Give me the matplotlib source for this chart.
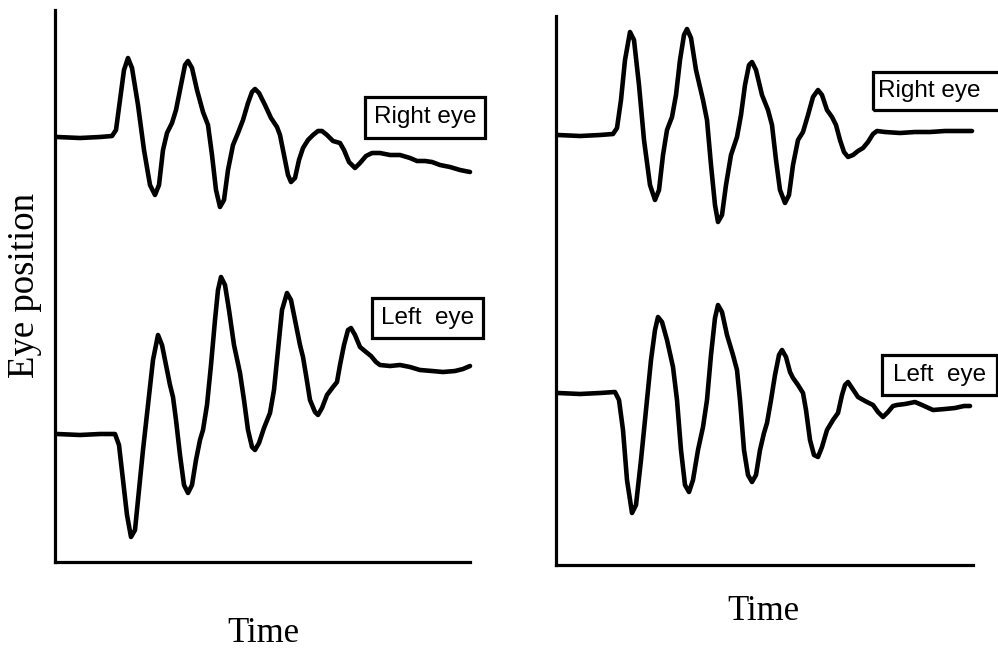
import matplotlib
matplotlib.use("Agg")
import matplotlib.pyplot as plt
from matplotlib.patches import Rectangle

# left panel, right eye
t_lr = [2, 25, 45, 57, 61, 65, 69, 73, 77, 83, 89, 95, 100, 104, 108, 112, 117, 121, 126, 130,
        133, 137, 142, 148, 153, 157, 161, 165, 169, 173, 178, 183, 188, 193, 197, 200, 204, 210, 216, 222,
        225, 229, 233, 236, 240, 244, 248, 253, 258, 263, 267, 272, 278, 285, 289, 294, 300, 305, 311, 317,
        325, 335, 345, 355, 362, 370, 377, 385, 395, 405, 415]
v_lr = [425, 424, 425, 426, 432, 462, 492, 504, 494, 457, 412, 377, 367, 377, 412, 429, 439, 452, 477, 497,
        501, 494, 472, 450, 437, 407, 372, 355, 362, 392, 417, 429, 442, 459, 470, 473, 469, 457, 444, 435,
        427, 407, 387, 380, 384, 402, 414, 422, 427, 431, 431, 427, 421, 419, 412, 400, 394, 399, 406, 409,
        409, 407, 407, 404, 401, 401, 400, 397, 395, 392, 390]

# left panel, left eye
t_ll = [2, 25, 45, 60, 64, 68, 72, 76, 80, 84, 88, 93, 98, 103, 107, 111, 115, 118, 121, 125,
        129, 133, 137, 141, 145, 148, 152, 156, 160, 163, 166, 170, 174, 179, 185, 189, 193, 197, 200, 204,
        209, 215, 219, 223, 227, 232, 236, 240, 245, 248, 251, 255, 260, 263, 267, 272, 278, 282, 285, 289,
        293, 296, 300, 305, 311, 316, 321, 325, 335, 345, 355, 365, 377, 388, 400, 408, 415]
v_ll = [128, 127, 128, 128, 117, 82, 47, 25, 32, 72, 112, 157, 202, 227, 217, 197, 177, 165, 142, 107,
        77, 69, 77, 102, 122, 132, 157, 197, 242, 272, 285, 277, 252, 217, 189, 162, 132, 115, 112, 119,
        134, 149, 172, 212, 252, 269, 262, 242, 217, 205, 187, 162, 150, 147, 154, 167, 175, 180, 197, 217,
        232, 234, 227, 215, 210, 206, 200, 197, 196, 197, 195, 192, 191, 190, 191, 193, 196]

# right panel, right eye
t_rr = [2, 24, 44, 57, 61, 65, 69, 74, 78, 83, 88, 94, 99, 103, 107, 111, 116, 120, 124, 128,
        131, 135, 140, 147, 151, 155, 159, 162, 166, 170, 175, 181, 185, 189, 193, 196, 200, 206, 212, 216,
        220, 224, 229, 233, 237, 242, 247, 252, 257, 262, 266, 271, 276, 280, 284, 288, 292, 297, 302, 307,
        312, 317, 321, 329, 344, 359, 374, 389, 404, 416]
v_rr = [430, 429, 430, 431, 437, 465, 505, 533, 525, 480, 425, 380, 365, 375, 410, 435, 448, 470, 505, 530,
        536, 527, 495, 465, 445, 400, 360, 343, 350, 380, 410, 428, 450, 480, 500, 503, 495, 470, 455, 440,
        405, 375, 362, 370, 400, 425, 433, 450, 468, 475, 470, 455, 448, 440, 425, 413, 408, 410, 414, 417,
        423, 431, 434, 433, 432, 433, 433, 434, 434, 434]

# right panel, left eye
t_rl = [2, 24, 44, 59, 63, 67, 71, 76, 80, 85, 90, 95, 99, 102, 106, 111, 117, 121, 125, 129,
        133, 137, 142, 147, 151, 155, 159, 162, 166, 171, 177, 181, 184, 188, 192, 196, 200, 204, 208, 211,
        215, 219, 223, 226, 230, 234, 237, 242, 247, 250, 254, 258, 262, 266, 271, 277, 282, 286, 289, 292,
        296, 302, 309, 317, 322, 327, 332, 337, 341, 349, 359, 366, 377, 389, 399, 408, 414]
v_rl = [172, 171, 172, 173, 165, 135, 85, 52, 60, 105, 155, 205, 235, 248, 243, 225, 198, 165, 115, 80,
        73, 85, 115, 138, 165, 210, 247, 260, 253, 230, 210, 195, 165, 115, 90, 83, 90, 115, 132, 142,
        165, 190, 210, 215, 208, 193, 187, 180, 172, 155, 125, 110, 108, 118, 135, 145, 152, 170, 180, 183,
        177, 168, 164, 160, 153, 148, 153, 159, 160, 161, 163, 160, 155, 156, 157, 159, 159]

W, H = 998, 652
fig = plt.figure(figsize=(W / 100, H / 100), dpi=100)

serif = "Liberation Serif"
sans = "Liberation Sans"


def make_axes(x0, y_bottom, width, height):
    ax = fig.add_axes([x0 / W, (H - y_bottom) / H, width / W, height / H])
    ax.set_xlim(0, width)
    ax.set_ylim(0, height)
    for side in ("top", "right"):
        ax.spines[side].set_visible(False)
    for side in ("left", "bottom"):
        ax.spines[side].set_linewidth(2.3)
        ax.spines[side].set_capstyle("projecting")
    ax.set_xticks([])
    ax.set_yticks([])
    ax.patch.set_visible(False)
    return ax


def label_box(ax, x, y, w, h, text, text_left=None):
    ax.add_patch(Rectangle((x, y), w, h, fill=False, lw=2.3, ec="black",
                           clip_on=False, joinstyle="miter"))
    if text_left is None:
        ax.text(x + w / 2, y + h / 2, text, ha="center", va="center",
                fontsize=17.5, family=sans, clip_on=False)
    else:
        ax.text(text_left, y + h / 2, text, ha="left", va="center",
                fontsize=17.5, family=sans, clip_on=False)


def trace(ax, t, v):
    ax.plot(t, v, color="black", lw=3.3, solid_joinstyle="round",
            solid_capstyle="round", clip_on=False)


ax1 = make_axes(55, 562, 415, 552)
trace(ax1, t_lr, v_lr)
trace(ax1, t_ll, v_ll)
label_box(ax1, 310, 424, 120, 41, "Right eye")
label_box(ax1, 317, 224, 111, 40, "Left  eye")

ax2 = make_axes(556, 565, 417, 549)
trace(ax2, t_rr, v_rr)
trace(ax2, t_rl, v_rl)
label_box(ax2, 317, 455, 150, 38, "Right eye", text_left=322)
label_box(ax2, 326, 170, 115, 40, "Left  eye")

fig.text(25 / W, 1 - 285 / H, "Eye position", rotation=90, ha="center", va="center",
         fontsize=26.5, family=serif)
fig.text(263 / W, 1 - 633 / H, "Time", ha="center", va="center", fontsize=25, family=serif)
fig.text(763 / W, 1 - 611 / H, "Time", ha="center", va="center", fontsize=25, family=serif)

fig.savefig("out.png", dpi=100)
